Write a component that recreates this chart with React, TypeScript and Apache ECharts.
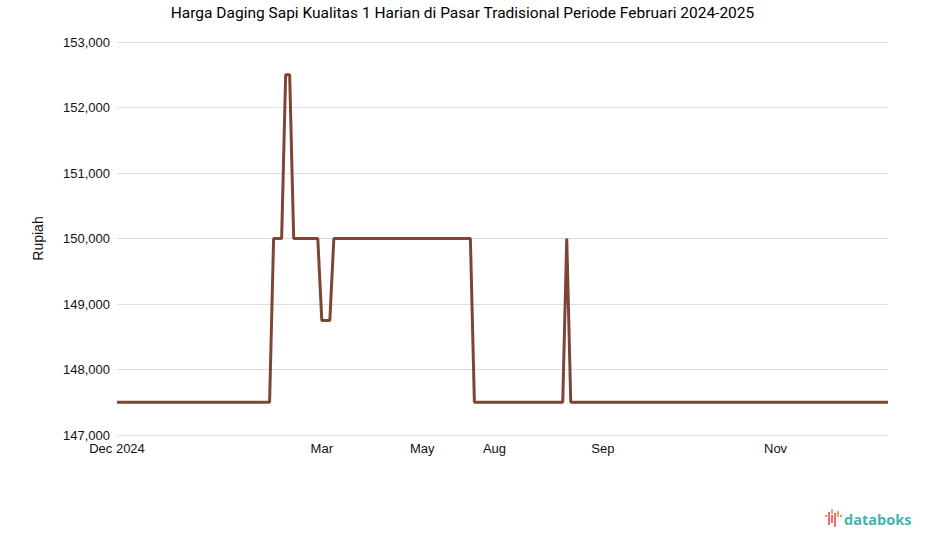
import React, { useEffect, useRef } from "react";
import * as echarts from "echarts";

// Segments of the daily price series: [count of days, price]
const segmentLengths = [39, 3, 2, 7, 3, 35, 23, 1, 80];
const segmentPrices = [147500, 150000, 152500, 150000, 148750, 150000, 147500, 150000, 147500];

// Tick labels shown on the x axis, at given day positions
const tickIndices = [0, 51, 76, 94, 121, 164];
const tickLabels = ["Dec 2024", "Mar", "May", "Aug", "Sep", "Nov"];

const title = "Harga Daging Sapi Kualitas 1 Harian di Pasar Tradisional Periode Februari 2024-2025";

const prices: number[] = [];
segmentLengths.forEach((n, k) => {
  for (let i = 0; i < n; i++) prices.push(segmentPrices[k]);
});
const categories: string[] = prices.map((_, i) => {
  const t = tickIndices.indexOf(i);
  return t >= 0 ? tickLabels[t] : "d" + i;
});

export default function App() {
  const ref = useRef<HTMLDivElement>(null);
  useEffect(() => {
    document.body.style.margin = "0";
    if (!ref.current) return;
    const chart = echarts.init(ref.current, null, { renderer: "svg" });
    const labelFont = "'Liberation Sans', Arial, sans-serif";
    chart.setOption({
      animation: false,
      backgroundColor: "#ffffff",
      title: {
        text: title,
        left: "center",
        top: 0,
        textStyle: { fontFamily: "Roboto, sans-serif", fontSize: 15.5, fontWeight: "normal", color: "#000" },
      },
      grid: { left: 117, right: 37, top: 42, bottom: 112 },
      xAxis: {
        type: "category",
        data: categories,
        boundaryGap: false,
        axisLine: { show: false },
        axisTick: { show: false },
        axisLabel: {
          interval: (idx: number) => tickIndices.indexOf(idx) >= 0,
          color: "#111",
          fontSize: 13,
          fontFamily: labelFont,
          margin: 7,
        },
        splitLine: { show: false },
      },
      yAxis: {
        type: "value",
        min: 147000,
        max: 153000,
        interval: 1000,
        name: "Rupiah",
        nameLocation: "middle",
        nameGap: 72,
        nameTextStyle: { color: "#111", fontSize: 14, fontFamily: labelFont },
        axisLine: { show: false },
        axisTick: { show: false },
        axisLabel: {
          color: "#111",
          fontSize: 13,
          fontFamily: labelFont,
          margin: 7,
          formatter: (v: number) => v.toLocaleString("en-US"),
        },
        splitLine: { lineStyle: { color: "#dddddd", width: 1 } },
      },
      series: [
        {
          type: "line",
          data: prices,
          showSymbol: false,
          symbol: "none",
          lineStyle: { color: "#7e4537", width: 3 },
        },
      ],
      graphic: [
        { type: "rect", shape: { x: 825, y: 515, width: 2, height: 2 }, style: { fill: "#f08a6c" } },
        { type: "rect", shape: { x: 828, y: 512, width: 2, height: 13 }, style: { fill: "#ee6f6a" } },
        { type: "rect", shape: { x: 831, y: 509, width: 2, height: 5 }, style: { fill: "#f4a04a" } },
        { type: "rect", shape: { x: 831, y: 515, width: 2, height: 8 }, style: { fill: "#ee6f6a" } },
        { type: "rect", shape: { x: 834, y: 513, width: 2, height: 14 }, style: { fill: "#ee6f6a" } },
        { type: "rect", shape: { x: 837, y: 511, width: 2, height: 6 }, style: { fill: "#f4a04a" } },
        { type: "rect", shape: { x: 840, y: 515, width: 2, height: 2 }, style: { fill: "#f08a6c" } },
        {
          type: "text",
          x: 844,
          y: 519,
          style: {
            text: "databoks",
            fill: "#45b3ad",
            font: "bold 14.5px 'Open Sans', sans-serif",
            textVerticalAlign: "middle",
          },
        },
      ],
    });
    return () => chart.dispose();
  }, []);
  return <div ref={ref} style={{ width: 925, height: 547 }} />;
}
